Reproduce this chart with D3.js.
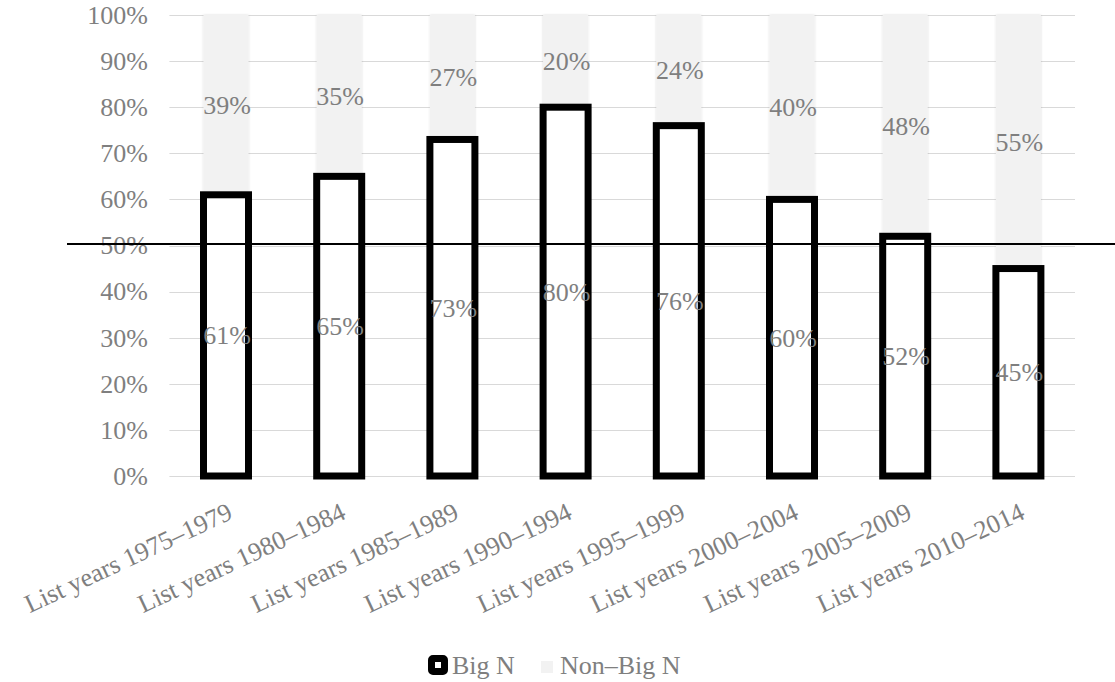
<!DOCTYPE html>
<html><head><meta charset="utf-8">
<script src="https://cdn.jsdelivr.net/npm/d3@7"></script>
<style>body{margin:0;background:#fff}svg{display:block}</style>
</head><body>
<svg id="c" width="1115" height="682"></svg>
<script>
const categories = ["List years 1975–1979","List years 1980–1984","List years 1985–1989","List years 1990–1994","List years 1995–1999","List years 2000–2004","List years 2005–2009","List years 2010–2014"];
const bigN = [61,65,73,80,76,60,52,45];
const nonBigN = [39,35,27,20,24,40,48,55];
const yTicks = [0,10,20,30,40,50,60,70,80,90,100];
const seriesNames = ["Big N","Non–Big N"];
const refLine = 50;

(function(){
const FONT = '"Liberation Serif", serif';
const svg = d3.select("#c").style("font-family", FONT);
const pLeft = 169.4, pRight = 1075, pTop = 15, pBottom = 476;
const x = d3.scaleBand().domain(categories).range([pLeft, pRight]).paddingInner(0).paddingOuter(0);
const y = d3.scaleLinear().domain([0,100]).range([pBottom, pTop]);
const bw = 45;
const grey = "#7f7f7f";
const fs = 26;
const cx = d => x(d) + x.bandwidth()/2;

// gridlines
svg.append("g").selectAll("line").data(yTicks).join("line")
  .attr("x1", pLeft).attr("x2", pRight)
  .attr("y1", d=>Math.round(y(d))+0.5).attr("y2", d=>Math.round(y(d))+0.5)
  .attr("stroke", "#d9d9d9").attr("stroke-width", 1);

// y axis labels
const yAxis = d3.axisLeft(y).tickValues(yTicks).tickFormat(d=>d+"%").tickSize(0).tickPadding(0);
const ya = svg.append("g").attr("transform", `translate(148,0)`).call(yAxis);
ya.attr("font-family", null).attr("font-size", null);
ya.select(".domain").remove();
ya.selectAll("text").attr("fill", grey).style("font-size", fs+"px").style("font-family", FONT).attr("dy","0.32em");

const defs = svg.append("defs");
const f = defs.append("filter").attr("id","sh").attr("x","-20%").attr("y","-5%").attr("width","140%").attr("height","110%");
f.append("feDropShadow").attr("dx",0).attr("dy",0).attr("stdDeviation",1).attr("flood-color","#000").attr("flood-opacity",0.15);

// Non-Big N bars
svg.append("g").selectAll("rect").data(categories).join("rect")
  .attr("x", d=>cx(d)-bw/2)
  .attr("width", bw)
  .attr("y", (d,i)=>y(bigN[i]+nonBigN[i]))
  .attr("height", (d,i)=>y(bigN[i]) - y(bigN[i]+nonBigN[i]))
  .attr("fill", "#f2f2f2").attr("filter","url(#sh)");

// Big N bars
svg.append("g").selectAll("rect").data(categories).join("rect")
  .attr("x", d=>cx(d)-bw/2)
  .attr("width", bw)
  .attr("y", (d,i)=>y(bigN[i]))
  .attr("height", (d,i)=>y(0)-y(bigN[i]))
  .attr("fill", "#fff").attr("stroke", "#000").attr("stroke-width", 7);

// reference line
svg.append("line").attr("x1", 67).attr("x2", 1115).attr("y1", y(refLine)-1.5).attr("y2", y(refLine)-1.5)
  .attr("stroke", "#000").attr("stroke-width", 2);

// labels
svg.append("g").selectAll("text").data(categories).join("text")
  .attr("x", d=>cx(d)+1)
  .attr("y", (d,i)=>y(bigN[i]/2))
  .attr("dy","0.35em").attr("text-anchor","middle")
  .attr("fill", grey).style("font-size", fs+"px").style("font-family", FONT)
  .text((d,i)=>bigN[i]+"%");
svg.append("g").selectAll("text").data(categories).join("text")
  .attr("x", d=>cx(d)+1)
  .attr("y", (d,i)=>y(bigN[i]+nonBigN[i]/2))
  .attr("dy","0.35em").attr("text-anchor","middle")
  .attr("fill", grey).style("font-size", fs+"px").style("font-family", FONT)
  .text((d,i)=>nonBigN[i]+"%");

// x labels
svg.append("g").selectAll("text").data(categories).join("text")
  .attr("transform", d=>`translate(${cx(d)+8},${518}) rotate(-25)`)
  .attr("text-anchor","end")
  .attr("fill", grey).style("font-size", fs+"px").style("font-family", FONT)
  .text(d=>d);

// legend
const lg = svg.append("g");
lg.append("rect").attr("x", 431.5).attr("y", 658.5).attr("width", 13).attr("height", 13).attr("rx",1.5)
  .attr("fill","#fff").attr("stroke","#000").attr("stroke-width",7);
lg.append("text").attr("x", 452).attr("y", 674).attr("fill", grey).style("font-size", fs+"px").style("font-family", FONT).text(seriesNames[0]);
lg.append("rect").attr("x", 541).attr("y", 661).attr("width", 12).attr("height", 12).attr("fill","#f2f2f2");
lg.append("text").attr("x", 560).attr("y", 674).attr("fill", grey).style("font-size", fs+"px").style("font-family", FONT).text(seriesNames[1]);
})();
</script>
</body></html>
